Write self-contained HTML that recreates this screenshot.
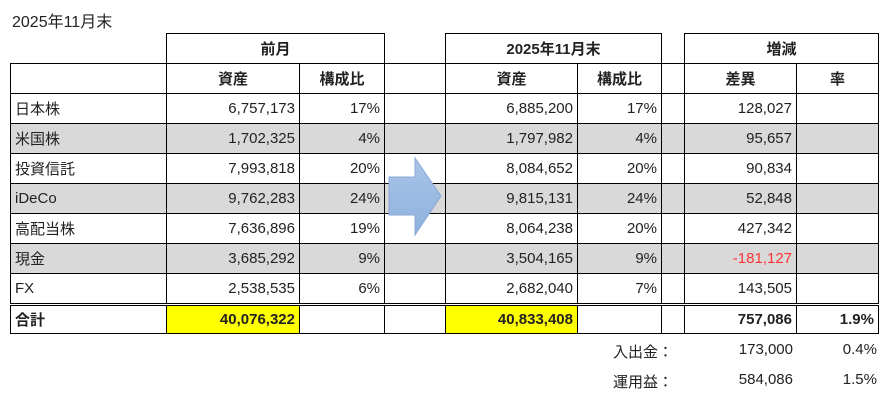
<!DOCTYPE html>
<html><head><meta charset="utf-8"><style>
body{margin:0;width:888px;height:400px;background:#fff;font-family:"Liberation Sans","Noto Sans CJK JP",sans-serif;color:#222;position:relative;overflow:hidden}
.t{position:absolute;left:10px;top:33px;border-collapse:collapse;table-layout:fixed;font-size:15px}
.t td{height:29px;padding:0 4px;border:1px solid #000;white-space:nowrap;overflow:hidden}
.t td.n{border:none}
.h td{text-align:center;font-weight:bold}
.r{text-align:right}
.g td{background:#d9d9d9}
.tot td{border-top:3px double #000;font-weight:bold;height:27px}
.y{background:#ffff00!important}
.red{color:#ff3333}
.title{position:absolute;left:12px;top:8px;font-size:16px}
.ex{position:absolute;font-size:15px}
</style></head><body>
<div class="title">2025年11月末</div>
<table class="t">
<colgroup><col style="width:156px"><col style="width:133px"><col style="width:85px"><col style="width:61px"><col style="width:132px"><col style="width:84px"><col style="width:23px"><col style="width:112px"><col style="width:82px"></colgroup>
<tr class="h"><td class="n" style="border-bottom:1px solid #000"></td><td colspan="2">前月</td><td class="n" style="border-bottom:1px solid #000"></td><td colspan="2">2025年11月末</td><td class="n" style="border-bottom:1px solid #000"></td><td colspan="2">増減</td></tr>
<tr class="h"><td></td><td>資産</td><td>構成比</td><td></td><td>資産</td><td>構成比</td><td></td><td>差異</td><td>率</td></tr>
<tr><td>日本株</td><td class="r">6,757,173</td><td class="r">17%</td><td></td><td class="r">6,885,200</td><td class="r">17%</td><td></td><td class="r">128,027</td><td></td></tr>
<tr class="g"><td>米国株</td><td class="r">1,702,325</td><td class="r">4%</td><td></td><td class="r">1,797,982</td><td class="r">4%</td><td></td><td class="r">95,657</td><td></td></tr>
<tr><td>投資信託</td><td class="r">7,993,818</td><td class="r">20%</td><td></td><td class="r">8,084,652</td><td class="r">20%</td><td></td><td class="r">90,834</td><td></td></tr>
<tr class="g"><td>iDeCo</td><td class="r">9,762,283</td><td class="r">24%</td><td></td><td class="r">9,815,131</td><td class="r">24%</td><td></td><td class="r">52,848</td><td></td></tr>
<tr><td>高配当株</td><td class="r">7,636,896</td><td class="r">19%</td><td></td><td class="r">8,064,238</td><td class="r">20%</td><td></td><td class="r">427,342</td><td></td></tr>
<tr class="g"><td>現金</td><td class="r">3,685,292</td><td class="r">9%</td><td></td><td class="r">3,504,165</td><td class="r">9%</td><td></td><td class="r red">-181,127</td><td></td></tr>
<tr><td>FX</td><td class="r">2,538,535</td><td class="r">6%</td><td></td><td class="r">2,682,040</td><td class="r">7%</td><td></td><td class="r">143,505</td><td></td></tr>
<tr class="tot"><td>合計</td><td class="r y">40,076,322</td><td></td><td></td><td class="r y">40,833,408</td><td></td><td></td><td class="r">757,086</td><td class="r">1.9%</td></tr>
</table>
<svg style="position:absolute;left:0;top:0" width="888" height="400"><defs><linearGradient id="a" x1="0" y1="0" x2="0" y2="1"><stop offset="0" stop-color="#a9c4e8"/><stop offset="1" stop-color="#8eb1de"/></linearGradient></defs>
<polygon points="389,177 415,177 415,158 441,196 415,235 415,215 389,215" fill="url(#a)" stroke="#8aaad6" stroke-width="1"/></svg>
<div class="ex" style="left:613px;top:341px">入出金：</div>
<div class="ex" style="left:680px;top:341px;width:113px;text-align:right">173,000</div>
<div class="ex" style="left:800px;top:341px;width:77px;text-align:right">0.4%</div>
<div class="ex" style="left:613px;top:371px">運用益：</div>
<div class="ex" style="left:680px;top:371px;width:113px;text-align:right">584,086</div>
<div class="ex" style="left:800px;top:371px;width:77px;text-align:right">1.5%</div>
</body></html>
